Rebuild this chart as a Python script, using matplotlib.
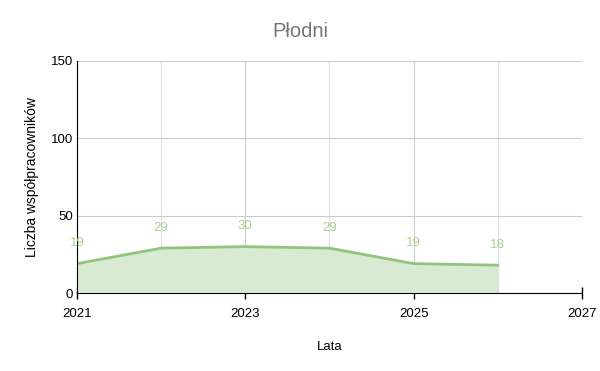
import matplotlib.pyplot as plt
from matplotlib.ticker import FixedLocator

plt.rcParams['font.family'] = ['Liberation Sans', 'DejaVu Sans']

years = [2021, 2022, 2023, 2024, 2025, 2026]
counts = [19, 29, 30, 29, 19, 18]
major_years = [2021, 2023, 2025, 2027]
minor_years = [2022, 2024, 2026]
y_ticks = [0, 50, 100, 150]

line_color = "#93c47d"
fill_color = "#d9ead3"
label_color = "#a9d18e"

fig = plt.figure(figsize=(6, 3.71), dpi=100)
ax = fig.add_axes([0.1283, 0.2102, 0.8417, 0.6254])

ax.fill_between(years, counts, 0, color=fill_color, linewidth=0)
ax.plot(years, counts, color=line_color, linewidth=2)

for x, y in zip(years, counts):
    ax.annotate(str(y), (x, y), xytext=(0, 14.5), textcoords="offset points",
                ha="center", va="center", color=label_color, fontsize=9.5)

ax.set_xlim(2021, 2027)
ax.set_ylim(0, 150)
ax.xaxis.set_major_locator(FixedLocator(major_years))
ax.xaxis.set_minor_locator(FixedLocator(minor_years))
ax.set_yticks(y_ticks)

ax.grid(which="major", color="#cccccc", linewidth=0.8)
ax.grid(which="minor", axis="x", color="#e0e0e0", linewidth=0.8)
ax.set_axisbelow(True)

for s in ["top", "right"]:
    ax.spines[s].set_visible(False)
ax.spines["left"].set_color("black")
ax.spines["bottom"].set_color("black")

ax.tick_params(axis="x", which="major", direction="inout", length=8, width=1,
               labelsize=9.5, pad=7)
ax.tick_params(axis="x", which="minor", length=0)
ax.tick_params(axis="y", length=0, labelsize=9.5, pad=3)

fig.text(0.5, 0.915, "Płodni", color="#757575", fontsize=14.5,
         ha="center", va="center")
ax.set_xlabel("Lata", fontsize=9.5, labelpad=15)
ax.set_ylabel("Liczba współpracowników", fontsize=10, labelpad=8)

fig.savefig("out.png", dpi=100)
